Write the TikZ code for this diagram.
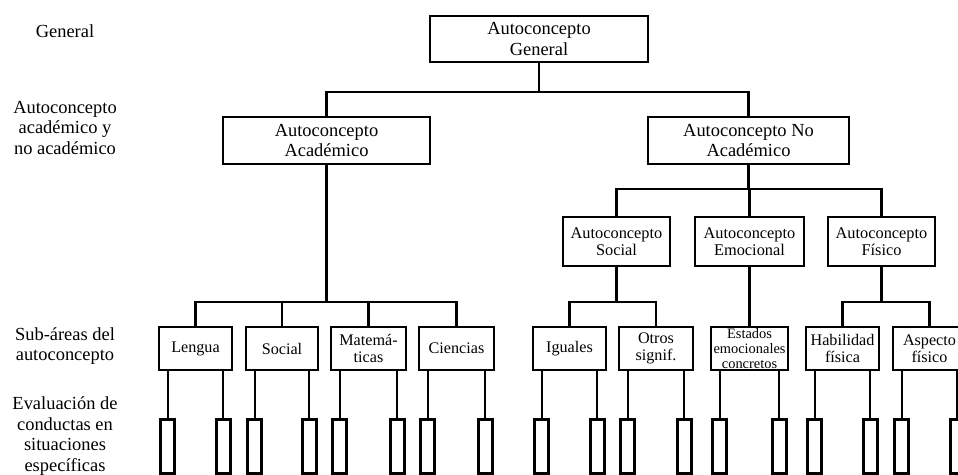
\documentclass[tikz,border=0pt]{standalone}
\usepackage{fontspec}
\setmainfont{Liberation Serif}
\usepackage{tikz}

\begin{document}
\begin{tikzpicture}[x=0.02cm, y=-0.02cm, line width=1.25pt,
        box/.style={draw, line width=1.5pt, align=center, inner sep=1pt, font=\fontsize{10.5}{11.5}\selectfont},
        mid box/.style={box, minimum height=0.98cm, font=\fontsize{9.3}{9.8}\selectfont},
        sub box/.style={box, minimum height=0.86cm, font=\fontsize{9.2}{9.5}\selectfont},
        eval box/.style={draw, line width=1.5pt, minimum width=0.28cm, minimum height=1.08cm, inner sep=0pt},
        level label/.style={align=center, font=\fontsize{10.5}{11.8}\selectfont}]

                \useasboundingbox (0,0) rectangle (958,475);
                \clip (0,0) rectangle (958,475);

                \node[level label] (lblgen) at (65,31) {General};
                \node[level label] (lblacad) at (65,128) {Autoconcepto\\académico y\\no académico};
                \node[level label] (lblsub) at (65,346) {Sub-áreas del\\autoconcepto};
                \node[level label] (lbleval) at (65,436) {Evaluación de\\conductas en\\situaciones\\específicas};

                \node[box, minimum width=4.36cm, minimum height=0.92cm] (gen) at (539,39) {Autoconcepto\\General};
                \node[box, minimum width=4.14cm, minimum height=0.94cm] (acad) at (326.5,140.5) {Autoconcepto\\Académico};
                \node[box, minimum width=4.02cm, minimum height=0.94cm] (noacad) at (748.5,140.5) {Autoconcepto No\\Académico};

                \node[mid box, minimum width=2.14cm] (asoc) at (616.5,241.5) {Autoconcepto\\Social};
                \node[mid box, minimum width=2.18cm] (aemo) at (749.5,241.5) {Autoconcepto\\Emocional};
                \node[mid box, minimum width=2.14cm] (afis) at (881.5,241.5) {Autoconcepto\\Físico};

                \node[sub box, minimum width=1.46cm] (len) at (195.5,348.5) {Lengua};
                \node[sub box, minimum width=1.44cm] (soc) at (282,348.5) {Social};
                \node[sub box, minimum width=1.50cm] (mat) at (368.5,348.5) {Matemá-\\ticas};
                \node[sub box, minimum width=1.50cm] (cie) at (456.5,348.5) {Ciencias};
                \node[sub box, minimum width=1.46cm] (igu) at (569.5,348.5) {Iguales};
                \node[sub box, minimum width=1.48cm] (otr) at (656,348.5) {Otros\\signif.};
                \node[sub box, minimum width=1.54cm, inner sep=0pt, font=\fontsize{8.2}{8.6}\selectfont] (est) at (749.5,348.5) {Estados\\emocionales\\concretos};
                \node[sub box, minimum width=1.46cm] (hab) at (842.5,348.5) {Habilidad\\física};
                \node[sub box, minimum width=1.46cm] (asp) at (929.5,348.5) {Aspecto\\físico};

                \coordinate (lvl1) at (0,92);
                \coordinate (lvl2) at (0,189);
                \coordinate (lvl3) at (0,302);

                \draw (gen.south) -- (gen.south |- lvl1);
                \draw (acad.north) |- (lvl1 -| noacad.north) -- (noacad.north);

                \draw (acad.south) -- (acad.south |- lvl3);
                \draw (len.north) |- (lvl3 -| cie.north) -- (cie.north);
                \draw (soc.north) -- (soc.north |- lvl3);
                \draw (mat.north) -- (mat.north |- lvl3);

                \draw (noacad.south) -- (noacad.south |- lvl2);
                \draw (asoc.north) |- (lvl2 -| afis.north) -- (afis.north);
                \draw (aemo.north) -- (aemo.north |- lvl2);

                \draw (asoc.south) -- (asoc.south |- lvl3);
                \draw (igu.north) |- (lvl3 -| otr.north) -- (otr.north);
                \draw (aemo.south) -- (est.north);
                \draw (afis.south) -- (afis.south |- lvl3);
                \draw (hab.north) |- (lvl3 -| asp.north) -- (asp.north);

                \foreach \n in {len,soc,mat,cie,igu,otr,est,hab,asp} {
                    \node[eval box] (\n-l) at ([shift={(10,75)}]\n.south west) {};
                    \node[eval box] (\n-r) at ([shift={(-10,75)}]\n.south east) {};
                    \draw (\n-l.north) -- (\n-l.north |- \n.south);
                    \draw (\n-r.north) -- (\n-r.north |- \n.south);
                }
            \end{tikzpicture}
\end{document}
